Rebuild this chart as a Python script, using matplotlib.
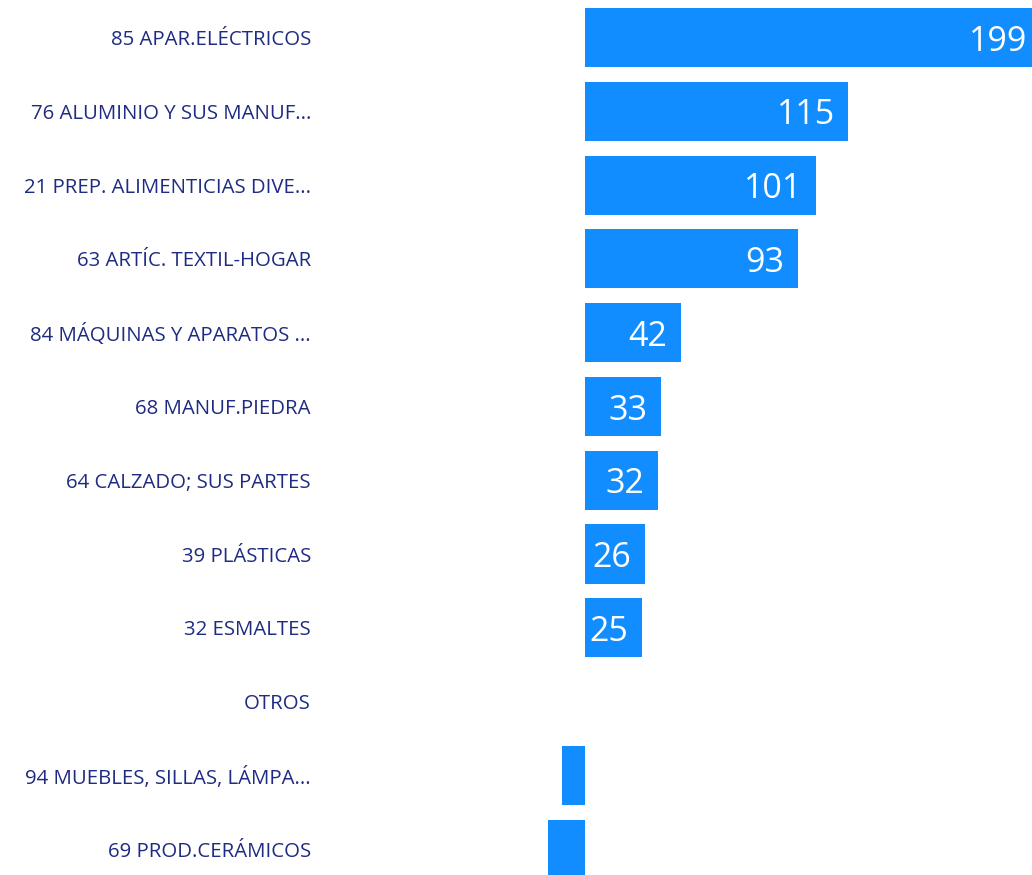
import matplotlib
matplotlib.use('Agg')
import matplotlib.pyplot as plt

categories = [
    "85 APAR.ELÉCTRICOS",
    "76 ALUMINIO Y SUS MANUF...",
    "21 PREP. ALIMENTICIAS DIVE...",
    "63 ARTÍC. TEXTIL-HOGAR",
    "84 MÁQUINAS Y APARATOS ...",
    "68 MANUF.PIEDRA",
    "64 CALZADO; SUS PARTES",
    "39 PLÁSTICAS",
    "32 ESMALTES",
    "OTROS",
    "94 MUEBLES, SILLAS, LÁMPA...",
    "69 PROD.CERÁMICOS",
]
values = [199, 115, 101, 93, 42, 33, 32, 26, 25, 0, -10, -16]
show_label = [True] * 9 + [False] * 3

BAR = '#118DFF'
TEXT = '#1F2B82'
plt.rcParams['font.family'] = ['Open Sans', 'DejaVu Sans']

fig = plt.figure(figsize=(10.32, 8.75), dpi=100)
ax = fig.add_axes([320 / 1032, 0, 712 / 1032, 1])

ypos = list(range(len(categories)))
ax.barh(ypos, values, height=0.8, color=BAR)

# zero sits at x=585 px, ~2.29 px per unit
ax.set_xlim(-(585 - 320) / 2.29, (1032 - 585) / 2.29)
ax.set_ylim(11.35, -0.508)

for y, v, show in zip(ypos, values, show_label):
    if show:
        ax.annotate(str(v), xy=(v, y), xytext=(-9.8, -3), textcoords='offset points',
                    ha='right', va='center', color='white', fontsize=24.5,
                    annotation_clip=False)

ax.set_yticks(ypos)
ax.set_yticklabels(categories, color=TEXT, fontsize=14.7)
ax.tick_params(axis='y', length=0, pad=6.5)
ax.set_xticks([])
for s in ax.spines.values():
    s.set_visible(False)

fig.savefig('out.png', dpi=100)
